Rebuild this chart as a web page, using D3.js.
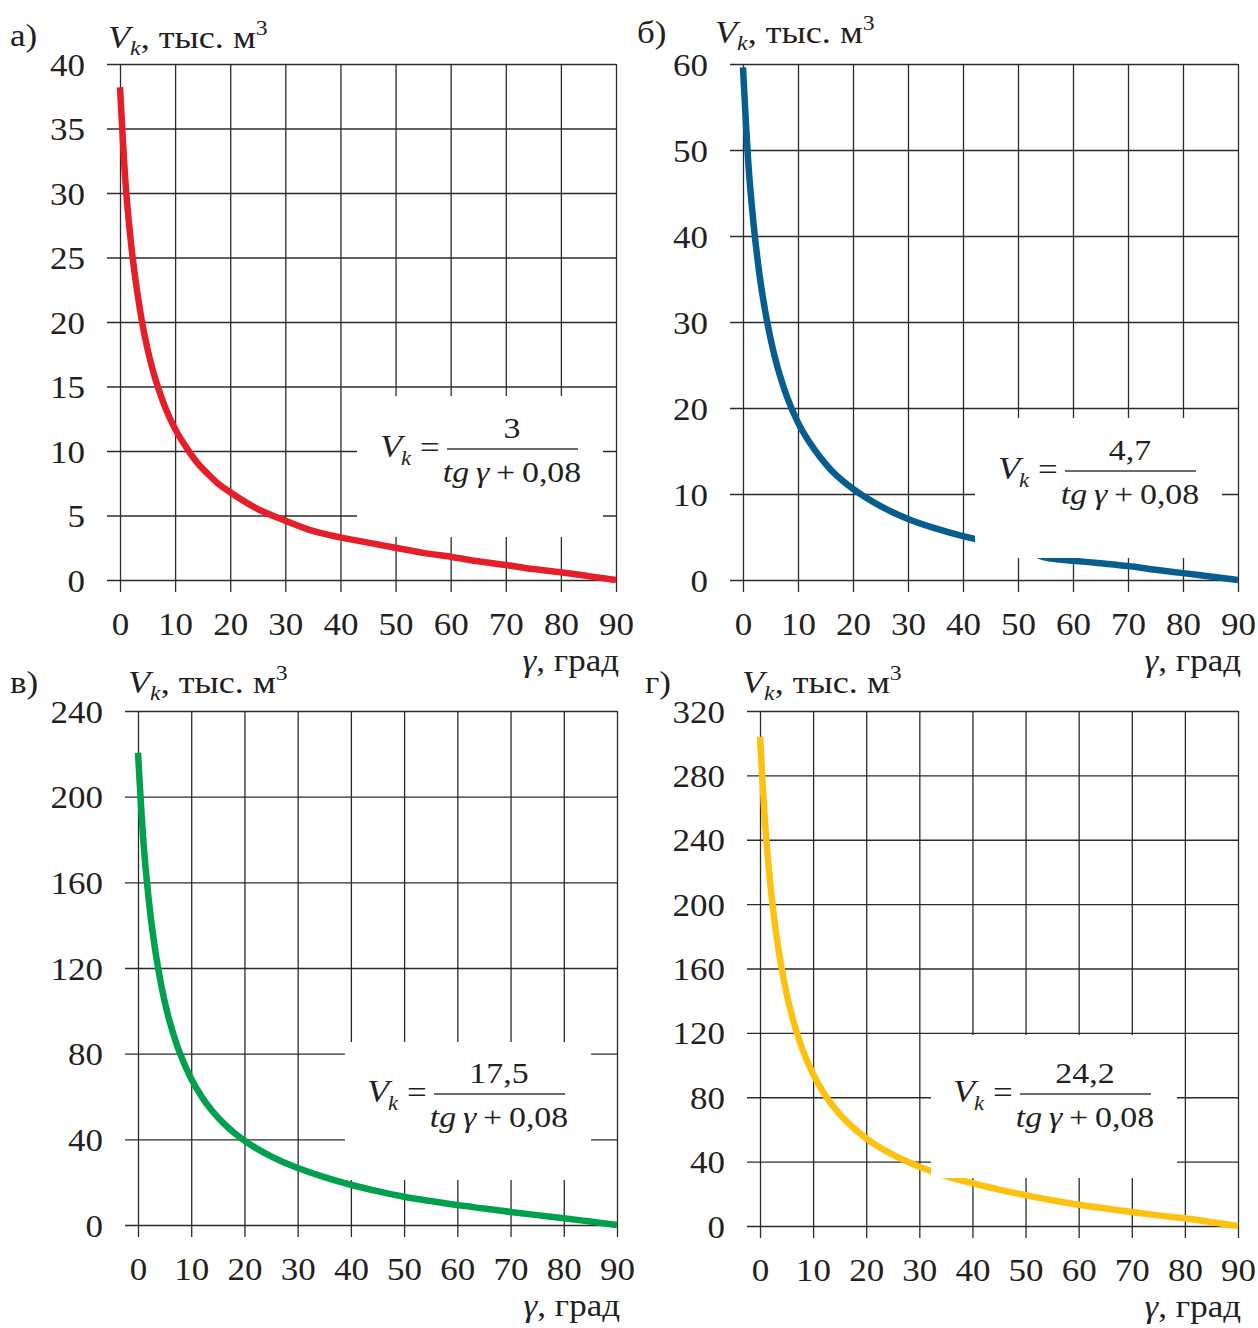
<!DOCTYPE html>
<html>
<head>
<meta charset="utf-8">
<script src="https://cdn.jsdelivr.net/npm/d3@7"></script>
<style>
  body { margin: 0; background: #fff; }
  svg text { font-family: "Liberation Serif", "Times New Roman", serif; fill: #231f20; }
</style>
</head>
<body>
<svg id="chart" width="1258" height="1328"></svg>
<script>
// angle, degrees
const angles = [0, 1, 2, 3, 4, 5, 6, 7, 8, 10, 12, 14, 16, 18, 20, 25, 30, 35, 40, 45, 50, 55, 60, 65, 70, 75, 80, 85, 90];

// V_k, thousand m3
const volA = [38.2, 30.8, 26.1, 22.7, 20.0, 17.9, 16.2, 14.8, 13.6, 11.7, 10.3, 9.1, 8.2, 7.4, 6.8, 5.5, 4.6, 3.8, 3.3, 2.9, 2.5, 2.1, 1.8, 1.45, 1.16, 0.85, 0.6, 0.3, 0];
const volB = [59.6, 48.2, 40.9, 35.5, 31.4, 28.1, 25.4, 23.2, 21.3, 18.3, 16.1, 14.3, 12.8, 11.6, 10.6, 8.6, 7.1, 6.0, 5.1, 4.4, 3.9, 2.6, 2.25, 1.95, 1.63, 1.2, 0.8, 0.4, 0];
const volV = [220.5, 179.6, 152.3, 132.2, 116.8, 104.5, 94.6, 86.4, 79.4, 68.3, 59.8, 53.1, 47.7, 43.2, 39.4, 32.0, 26.6, 22.4, 18.8, 15.8, 13.2, 11.2, 9.3, 7.7, 6.1, 4.6, 3.2, 1.6, 0];
const volG = [304, 248.3, 210.5, 182.8, 161.5, 144.5, 130.8, 119.4, 109.7, 94.4, 82.7, 73.5, 66.0, 59.8, 54.5, 44.3, 36.8, 31.0, 26.6, 22.6, 19.2, 16.0, 13.2, 10.9, 8.7, 6.6, 4.8, 2.4, 0];

const xTicks = [0, 10, 20, 30, 40, 50, 60, 70, 80, 90];
const yTicksA = [0, 5, 10, 15, 20, 25, 30, 35, 40];
const yTicksB = [0, 10, 20, 30, 40, 50, 60];
const yTicksV = [0, 40, 80, 120, 160, 200, 240];
const yTicksG = [0, 40, 80, 120, 160, 200, 240, 280, 320];

const letters = ["а)", "б)", "в)", "г)"];
const numerators = ["3", "4,7", "17,5", "24,2"];

const panels = [
  { letter: letters[0], vol: volA, yTicks: yTicksA, numer: numerators[0], color: "#e41f2a",
    x0: 120, x1: 616, yTop: 64, yBot: 580, letterPos: [10, 46], titlePos: [108, 48],
    box: [357, 396, 603, 537], fx: 380, fy: 449 },
  { letter: letters[1], vol: volB, yTicks: yTicksB, numer: numerators[1], color: "#075d8e",
    x0: 743, x1: 1238, yTop: 64, yBot: 580, letterPos: [637, 43], titlePos: [715, 43],
    box: [975, 418, 1222, 558], fx: 998, fy: 471 },
  { letter: letters[2], vol: volV, yTicks: yTicksV, numer: numerators[2], color: "#00a04e",
    x0: 138, x1: 617, yTop: 711, yBot: 1225, letterPos: [10, 693], titlePos: [128, 693],
    box: [345, 1042, 591, 1180], fx: 367, fy: 1094 },
  { letter: letters[3], vol: volG, yTicks: yTicksG, numer: numerators[3], color: "#fdc110",
    x0: 760, x1: 1238, yTop: 711, yBot: 1226, letterPos: [645, 693], titlePos: [742, 693],
    box: [931, 1035, 1177, 1178], fx: 953, fy: 1094 }
];

const sx = 1.13;      // glyphs in the figure are a bit wide
const gridColor = "#2b2b2b";

const svg = d3.select("#chart");

function wideText(g, x, y, size) {
  return g.append("text")
          .attr("transform", `translate(${x},${y}) scale(${sx},1)`)
          .attr("font-size", size);
}

panels.forEach(p => {
  const xScale = d3.scaleLinear([0, 90], [p.x0, p.x1]);
  const yScale = d3.scaleLinear([0, d3.max(p.yTicks)], [p.yBot, p.yTop]);
  const g = svg.append("g");

  // horizontal grid + value labels
  g.append("g")
   .attr("transform", `translate(${p.x0 - 13},0)`)
   .call(d3.axisLeft(yScale).tickValues(p.yTicks).tickSize(-(p.x1 - p.x0 + 13)))
   .call(a => a.select(".domain").remove())
   .call(a => a.selectAll("line").attr("stroke", gridColor).attr("stroke-width", 1.3))
   .call(a => a.selectAll("text")
               .attr("x", null).attr("dy", null)
               .attr("transform", `translate(-22,11) scale(${sx},1)`)
               .attr("font-size", 31));

  // vertical grid + angle labels
  g.append("g")
   .attr("transform", `translate(0,${p.yBot + 12})`)
   .call(d3.axisBottom(xScale).tickValues(xTicks).tickSize(-(p.yBot + 12 - p.yTop)).tickPadding(0))
   .call(a => a.select(".domain").remove())
   .call(a => a.selectAll("line").attr("stroke", gridColor).attr("stroke-width", 1.3))
   .call(a => a.selectAll("text")
               .attr("y", null).attr("dy", null)
               .attr("transform", `translate(0,43) scale(${sx},1)`)
               .attr("font-size", 31));

  // curve
  g.append("path")
   .datum(d3.zip(angles, p.vol))
   .attr("fill", "none")
   .attr("stroke", p.color)
   .attr("stroke-width", 6.5)
   .attr("d", d3.line(d => xScale(d[0]), d => yScale(d[1])).curve(d3.curveMonotoneX));

  // white plate under the formula
  g.append("rect")
   .attr("x", p.box[0]).attr("y", p.box[1])
   .attr("width", p.box[2] - p.box[0]).attr("height", p.box[3] - p.box[1])
   .attr("fill", "#fff");

  // formula
  wideText(g, p.fx, p.fy + 8, 32).attr("font-style", "italic").text("V");
  wideText(g, p.fx + 21, p.fy + 16, 20).attr("font-style", "italic").text("k");
  wideText(g, p.fx + 40, p.fy + 9, 31).text("=");
  g.append("line")
   .attr("x1", p.fx + 67).attr("x2", p.fx + 198)
   .attr("y1", p.fy).attr("y2", p.fy)
   .attr("stroke", "#3a3a3a").attr("stroke-width", 1.5);
  wideText(g, p.fx + 132, p.fy - 11, 30).attr("text-anchor", "middle").text(p.numer);
  const den = wideText(g, p.fx + 132, p.fy + 33, 30).attr("text-anchor", "middle");
  den.append("tspan").attr("font-style", "italic").text("tg\u2009γ");
  den.append("tspan").text("\u2009+\u20090,08");

  // panel letter
  wideText(g, p.letterPos[0], p.letterPos[1], 31).text(p.letter);

  // y title
  const t = wideText(g, p.titlePos[0], p.titlePos[1], 32);
  t.append("tspan").attr("font-style", "italic").text("V");
  t.append("tspan").attr("font-style", "italic").attr("font-size", 21).attr("dy", 7).text("k");
  t.append("tspan").attr("dy", -7).text(", тыс. м");
  t.append("tspan").attr("font-size", 21).attr("dy", -13).text("3");

  // x title
  const xt = wideText(g, p.x1 + 3, p.yBot + 91, 31).attr("text-anchor", "end");
  xt.append("tspan").attr("font-style", "italic").text("γ");
  xt.append("tspan").text(", град");
});
</script>
</body>
</html>
